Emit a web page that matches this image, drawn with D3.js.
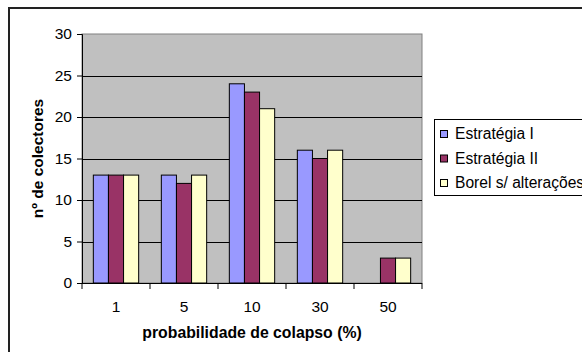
<!DOCTYPE html>
<html>
<head>
<meta charset="utf-8">
<script src="https://cdn.jsdelivr.net/npm/d3@7"></script>
<style>
  html, body { margin: 0; padding: 0; background: #fff; }
  svg { display: block; font-family: "Liberation Sans", Arial, sans-serif; }
</style>
</head>
<body>
<svg id="chart" width="582" height="352"></svg>
<script>
// Collector counts per collapse probability, for each strategy
const categories = ["1", "5", "10", "30", "50"];
const seriesNames = ["Estratégia I", "Estratégia II", "Borel s/ alterações"];
const estrategiaI = [13, 13, 24, 16, 0];
const estrategiaII = [13, 12, 23, 15, 3];
const borel = [13, 13, 21, 16, 3];
const yTicks = [0, 5, 10, 15, 20, 25, 30];
const colors = ["#9999ff", "#993366", "#ffffcc"];

const series = [estrategiaI, estrategiaII, borel];

const svg = d3.select("#chart");
const plot = { left: 82, top: 34, right: 422, bottom: 283 };

// Outer chart frame
svg.append("rect")
  .attr("x", 9).attr("y", 8)
  .attr("width", 600).attr("height", 400)
  .attr("fill", "#fff").attr("stroke", "#222").attr("stroke-width", 2);

const x = d3.scaleBand().domain(categories).range([plot.left, plot.right]);
const xInner = d3.scaleBand().domain(d3.range(series.length))
  .range([0, x.bandwidth()]).paddingOuter(0.75).paddingInner(0);
const y = d3.scaleLinear().domain([0, 30]).range([plot.bottom, plot.top]);

// Plot background
svg.append("rect")
  .attr("x", plot.left).attr("y", plot.top)
  .attr("width", plot.right - plot.left).attr("height", plot.bottom - plot.top)
  .attr("fill", "#c0c0c0").attr("stroke", "#808080").attr("stroke-width", 1);

// Horizontal gridlines
svg.append("g").selectAll("line")
  .data(yTicks.filter(t => t > 0 && t < 30))
  .join("line")
  .attr("x1", plot.left).attr("x2", plot.right)
  .attr("y1", d => Math.round(y(d)) + 0.5).attr("y2", d => Math.round(y(d)) + 0.5)
  .attr("stroke", "#000").attr("stroke-width", 1);

// Bars
const groups = svg.append("g").selectAll("g")
  .data(series)
  .join("g")
  .attr("fill", (d, i) => colors[i]);

groups.selectAll("rect")
  .data((d, i) => d.map((v, j) => ({ v, j, i })).filter(e => e.v > 0))
  .join("rect")
  .attr("x", d => x(categories[d.j]) + xInner(d.i))
  .attr("y", d => y(d.v))
  .attr("width", xInner.bandwidth())
  .attr("height", d => y(0) - y(d.v))
  .attr("stroke", "#000").attr("stroke-width", 1);

// Y axis
const yAxis = svg.append("g")
  .attr("transform", `translate(${plot.left},0)`)
  .call(d3.axisLeft(y).tickValues(yTicks).tickSize(5).tickPadding(5));
yAxis.select(".domain").attr("stroke", "#000");
yAxis.selectAll("line").attr("stroke", "#000");
yAxis.selectAll("text").attr("font-size", 15.5).attr("fill", "#000")
  .attr("font-family", "Liberation Sans, Arial, sans-serif");

// X axis with ticks on band boundaries
const xAxis = svg.append("g")
  .attr("transform", `translate(0,${plot.bottom})`);
xAxis.append("line")
  .attr("x1", plot.left).attr("x2", plot.right)
  .attr("y1", 0.5).attr("y2", 0.5).attr("stroke", "#000");
xAxis.selectAll(".tickmark")
  .data(categories.concat(["end"]))
  .join("line")
  .attr("class", "tickmark")
  .attr("x1", (d, i) => i < categories.length ? x(d) : plot.right)
  .attr("x2", (d, i) => i < categories.length ? x(d) : plot.right)
  .attr("y1", 0).attr("y2", 6).attr("stroke", "#000");
xAxis.selectAll("text")
  .data(categories)
  .join("text")
  .attr("x", d => x(d) + x.bandwidth() / 2)
  .attr("y", 24)
  .attr("dy", "0.35em")
  .attr("text-anchor", "middle")
  .attr("font-size", 15.5)
  .text(d => d);

// Axis titles
svg.append("text")
  .attr("x", (plot.left + plot.right) / 2).attr("y", 332.5)
  .attr("dy", "0.35em")
  .attr("text-anchor", "middle")
  .attr("font-size", 15.8).attr("font-weight", "bold")
  .text("probabilidade de colapso (%)");

svg.append("text")
  .attr("transform", `translate(37.5,${(plot.top + plot.bottom) / 2}) rotate(-90)`)
  .attr("dy", "0.35em")
  .attr("text-anchor", "middle")
  .attr("font-size", 15.5).attr("font-weight", "bold")
  .text("nº de colectores");

// Legend
const legend = svg.append("g");
legend.append("rect")
  .attr("x", 434.5).attr("y", 119.5)
  .attr("width", 200).attr("height", 76)
  .attr("fill", "#fff").attr("stroke", "#000").attr("stroke-width", 1);
const rows = legend.selectAll("g.row")
  .data(seriesNames)
  .join("g")
  .attr("class", "row")
  .attr("transform", (d, i) => `translate(0,${134 + i * 24.5})`);
rows.append("rect")
  .attr("x", 440.5).attr("y", -3.5)
  .attr("width", 7).attr("height", 7)
  .attr("fill", (d, i) => colors[i]).attr("stroke", "#000");
rows.append("text")
  .attr("x", 455).attr("dy", "0.35em")
  .attr("font-size", 15.6)
  .text(d => d);
</script>
</body>
</html>
